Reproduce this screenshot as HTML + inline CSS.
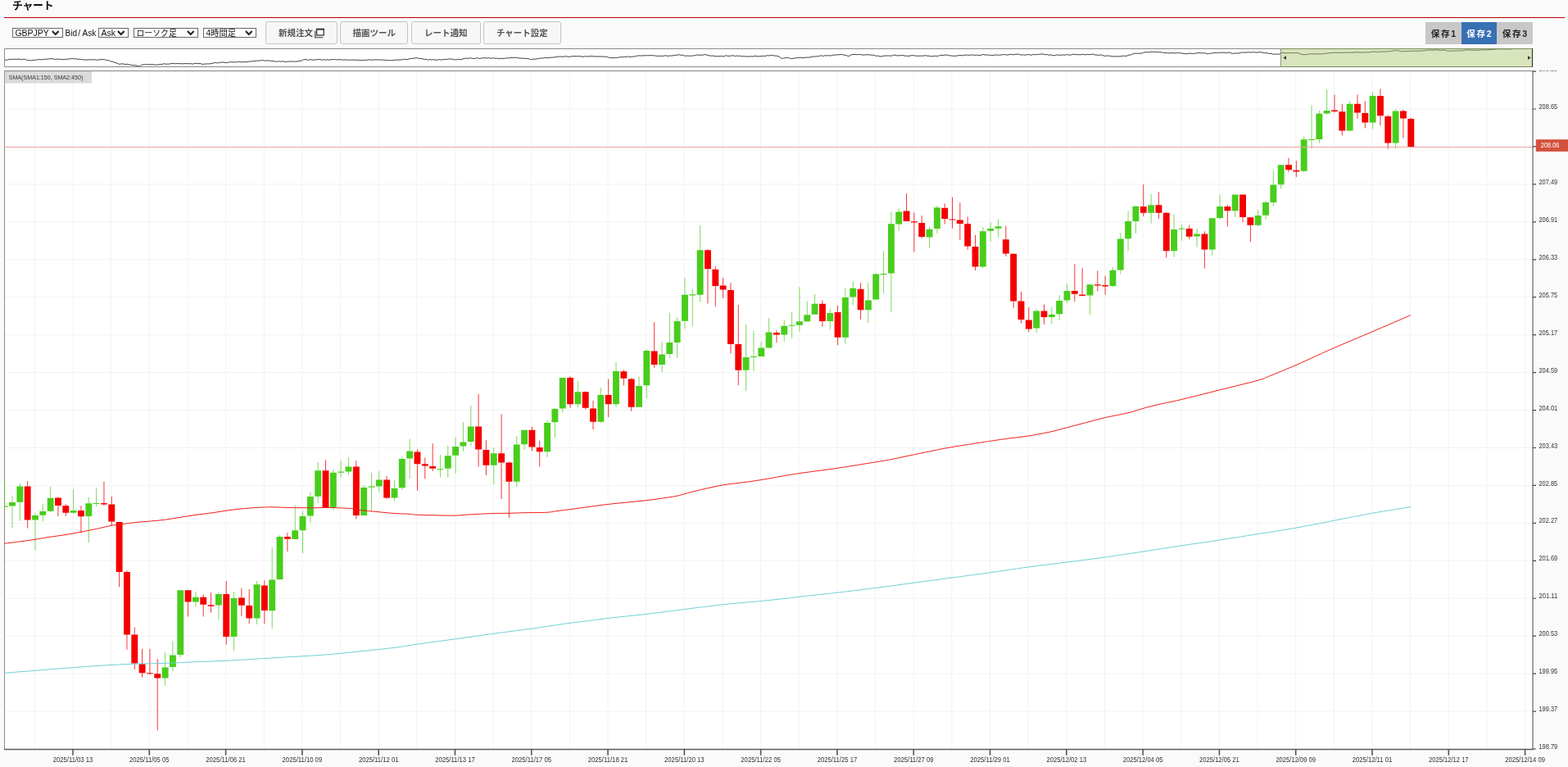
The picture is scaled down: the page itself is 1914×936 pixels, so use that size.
<!DOCTYPE html>
<html><head><meta charset="utf-8"><title>チャート</title><style>
*{box-sizing:border-box}
html,body{margin:0;padding:0;width:1914px;height:936px;overflow:hidden;background:#fafafa;font-family:"Liberation Sans","Noto Sans CJK JP",sans-serif}
.chart{position:absolute;left:0;top:0}
.title{position:absolute;left:15px;top:-2.2px;font-size:13px;line-height:18px;font-weight:bold;color:#111;font-family:"Liberation Sans","Noto Sans CJK JP",sans-serif;letter-spacing:-0.4px}
.rline{position:absolute;left:5px;top:20.5px;width:1905px;height:1.5px;background:#b80000}
.sel{position:absolute;top:34.2px;height:11.5px;border:1px solid #6a6a6a;background:#fff;font-size:10.5px;line-height:10px;color:#111;white-space:nowrap;overflow:hidden;font-family:"Liberation Sans","Noto Sans CJK JP",sans-serif}
.sel .t{position:absolute;left:2.4px;top:0px}
.sel .ar{position:absolute;right:3.3px;top:2.2px;width:9.5px;height:6.5px}
.lbl{position:absolute;top:35.5px;font-size:10px;color:#111;line-height:10px}
.btn{position:absolute;top:26px;height:27.6px;border:1px solid #c4c4c4;border-radius:3px;background:#f7f7f7;font-family:"Liberation Sans","Noto Sans CJK JP",sans-serif;font-size:10.5px;color:#555;text-align:center;line-height:26px;font-weight:700}
.sv{position:absolute;top:27.1px;height:26.7px;font-family:"Liberation Sans","Noto Sans CJK JP",sans-serif;font-size:10.5px;font-weight:bold;letter-spacing:1.7px;text-indent:1.7px;text-align:center;line-height:28.5px;color:#222;background:#c8c8c8}
.sv.on{background:#3870b4;color:#fff}
.gl{position:absolute;left:0;top:59px;width:1914px;height:1px}
text{font-family:"Liberation Sans",sans-serif}
.yl text{font-size:8.2px;fill:#333}
.xl text{font-size:8.4px;fill:#333;text-anchor:middle}
.pl{font-size:8.6px;fill:#fff}
.sma{font-size:7.2px;fill:#333}
</style></head><body><svg class="chart" width="1914" height="936" viewBox="0 0 1914 936"><rect x="5.5" y="59.5" width="1865.5" height="22" fill="#fff"/><path d="M5 73.64 L6.7 73.17 L8.4 73.3 L10.1 72.47 L11.8 72.57 L13.5 72.38 L15.2 72.1 L16.9 72.51 L18.6 72.08 L20.3 72.44 L22 72.11 L23.7 72.13 L25.4 72.43 L27.1 72.79 L28.8 72.16 L30.5 72.36 L32.2 73.09 L33.9 73.75 L35.6 73.78 L37.3 73.61 L39 74.01 L40.7 73.05 L42.4 73.66 L44.1 73.02 L45.8 72.77 L47.5 72.62 L49.2 72.66 L50.9 72.98 L52.6 72.28 L54.3 72.51 L56 72.43 L57.7 72.06 L59.4 72.09 L61.1 71.63 L62.8 71.67 L64.5 71.85 L66.2 72.32 L67.9 72.13 L69.6 72.07 L71.3 72.36 L73 72.28 L74.7 72.19 L76.4 72.67 L78.1 72.63 L79.8 72.26 L81.5 72.31 L83.2 71.97 L84.9 72 L86.6 71.58 L88.3 71.26 L90 72.08 L91.7 71.5 L93.4 71.96 L95.1 72.47 L96.8 72.12 L98.5 72.62 L100.2 72.39 L101.9 72.95 L103.6 73.04 L105.3 72.87 L107 73.14 L108.7 72.63 L110.4 72.98 L112.1 72.88 L113.8 72.87 L115.5 72.76 L117.2 73.11 L118.9 73.2 L120.6 72.75 L122.3 72.86 L124 72.25 L125.7 72.77 L127.4 72.65 L129.1 73.29 L130.8 73.68 L132.5 73.73 L134.2 74.36 L135.9 75.15 L137.6 75.11 L139.3 76.04 L141 76.4 L142.7 77.04 L144.4 77.66 L146.1 78.5 L147.8 77.85 L149.5 77.89 L151.2 78.11 L152.9 78.7 L154.6 78.14 L156.3 78.62 L158 78.86 L159.7 79.32 L161.4 79.54 L163.1 79.89 L164.8 79.66 L166.5 80.09 L168.2 80.35 L169.9 81.13 L171.6 80.41 L173.3 78.96 L175 78.87 L176.7 78.79 L178.4 78.67 L180.1 78.79 L181.8 78.92 L183.5 78.66 L185.2 78.46 L186.9 78.87 L188.6 78.85 L190.3 79.03 L192 79.21 L193.7 78.8 L195.4 78.47 L197.1 78.4 L198.8 78.28 L200.5 77.58 L202.2 78.27 L203.9 78.1 L205.6 78.11 L207.3 77.98 L209 77.54 L210.7 77.54 L212.4 77.34 L214.1 77.88 L215.8 77.44 L217.5 77.51 L219.2 77.71 L220.9 77.7 L222.6 77.86 L224.3 77.6 L226 77.55 L227.7 77.69 L229.4 77.64 L231.1 77.83 L232.8 77.46 L234.5 78.16 L236.2 77.85 L237.9 77.37 L239.6 77.39 L241.3 77.52 L243 77.62 L244.7 77.48 L246.4 78.21 L248.1 78.42 L249.8 78.03 L251.5 78.12 L253.2 77.84 L254.9 77.94 L256.6 77.74 L258.3 77.23 L260 77.3 L261.7 76.58 L263.4 76.33 L265.1 77.05 L266.8 76.55 L268.5 76.09 L270.2 76.33 L271.9 75.81 L273.6 76.2 L275.3 76.55 L277 76.38 L278.7 76.17 L280.4 75.72 L282.1 75.76 L283.8 75.52 L285.5 76 L287.2 75.73 L288.9 75.89 L290.6 75.43 L292.3 75.28 L294 75.76 L295.7 75.87 L297.4 75.7 L299.1 75.6 L300.8 75.56 L302.5 75.44 L304.2 74.93 L305.9 75.14 L307.6 74.94 L309.3 74.6 L311 74.41 L312.7 74.34 L314.4 74.04 L316.1 74.14 L317.8 74.08 L319.5 73.34 L321.2 73.81 L322.9 74.03 L324.6 74.17 L326.3 73.89 L328 74.03 L329.7 74.31 L331.4 74.36 L333.1 74.42 L334.8 74.84 L336.5 75.13 L338.2 75.13 L339.9 74.85 L341.6 75.05 L343.3 75.22 L345 74.63 L346.7 75.14 L348.4 75.37 L350.1 75.25 L351.8 75.23 L353.5 74.98 L355.2 74.71 L356.9 75.26 L358.6 74.85 L360.3 75.25 L362 75.26 L363.7 74.61 L365.4 74.38 L367.1 74.33 L368.8 73.59 L370.5 72.69 L372.2 72.62 L373.9 72.61 L375.6 73.25 L377.3 73.13 L379 72.5 L380.7 73.09 L382.4 73.23 L384.1 72.94 L385.8 72.67 L387.5 72.84 L389.2 72.47 L390.9 72.36 L392.6 73.22 L394.3 72.93 L396 72.82 L397.7 73.19 L399.4 72.74 L401.1 73.15 L402.8 73.12 L404.5 72.58 L406.2 72.64 L407.9 72.69 L409.6 72.66 L411.3 72.99 L413 72.71 L414.7 72.87 L416.4 72.63 L418.1 73.35 L419.8 72.87 L421.5 72.96 L423.2 73.08 L424.9 73.36 L426.6 72.93 L428.3 73.38 L430 73 L431.7 73.16 L433.4 73.29 L435.1 72.97 L436.8 73.49 L438.5 73.39 L440.2 73.34 L441.9 73.92 L443.6 73.22 L445.3 73.35 L447 73.44 L448.7 73.15 L450.4 72.84 L452.1 73.02 L453.8 73.05 L455.5 73.26 L457.2 72.65 L458.9 73.05 L460.6 72.77 L462.3 72.8 L464 73.25 L465.7 73.01 L467.4 73.06 L469.1 73.23 L470.8 73.5 L472.5 73.35 L474.2 73.77 L475.9 73.73 L477.6 73.6 L479.3 73.63 L481 73.28 L482.7 73.21 L484.4 73.03 L486.1 73.31 L487.8 72.96 L489.5 72.98 L491.2 72.93 L492.9 72.21 L494.6 72.38 L496.3 72.62 L498 72.43 L499.7 71.69 L501.4 71.49 L503.1 71.58 L504.8 71.04 L506.5 70.99 L508.2 70.63 L509.9 70.96 L511.6 71.34 L513.3 71.75 L515 71.39 L516.7 72.2 L518.4 72.46 L520.1 72.28 L521.8 72.98 L523.5 73.09 L525.2 72.45 L526.9 73.15 L528.6 72.68 L530.3 72.79 L532 73.28 L533.7 73.17 L535.4 72.6 L537.1 72.88 L538.8 72.99 L540.5 72.81 L542.2 72.51 L543.9 72.45 L545.6 72.64 L547.3 71.84 L549 72.15 L550.7 72.09 L552.4 72.05 L554.1 72.67 L555.8 73.02 L557.5 72.73 L559.2 72.13 L560.9 72.77 L562.6 72.4 L564.3 72.37 L566 71.4 L567.7 71.35 L569.4 70.95 L571.1 71.53 L572.8 71.05 L574.5 70.89 L576.2 71.13 L577.9 71.54 L579.6 71.43 L581.3 70.89 L583 70.77 L584.7 71.43 L586.4 71.09 L588.1 71.18 L589.8 70.6 L591.5 70.54 L593.2 71.08 L594.9 70.82 L596.6 70.47 L598.3 71.22 L600 70.92 L601.7 71.19 L603.4 70.66 L605.1 71.48 L606.8 70.89 L608.5 71.72 L610.2 71.45 L611.9 71.26 L613.6 71.37 L615.3 71.62 L617 70.94 L618.7 70.73 L620.4 71 L622.1 70.66 L623.8 70.46 L625.5 70.42 L627.2 70.24 L628.9 70.29 L630.6 70.39 L632.3 70.55 L634 71.13 L635.7 70.88 L637.4 71.24 L639.1 71.12 L640.8 71.45 L642.5 71.34 L644.2 71.74 L645.9 71.71 L647.6 72.55 L649.3 72.57 L651 72.16 L652.7 72.15 L654.4 72.29 L656.1 71.27 L657.8 71.64 L659.5 71.02 L661.2 70.91 L662.9 71.08 L664.6 70.56 L666.3 70.53 L668 70.57 L669.7 70.71 L671.4 70 L673.1 70.32 L674.8 70.08 L676.5 69.88 L678.2 69.55 L679.9 69.37 L681.6 69.04 L683.3 69.05 L685 68.94 L686.7 69.48 L688.4 68.99 L690.1 68.84 L691.8 68.71 L693.5 69.33 L695.2 69.3 L696.9 69.06 L698.6 68.65 L700.3 68.57 L702 68.61 L703.7 68.76 L705.4 68.49 L707.1 68.75 L708.8 68.59 L710.5 69.22 L712.2 69.23 L713.9 68.84 L715.6 68.57 L717.3 69.22 L719 68.63 L720.7 68.7 L722.4 68.43 L724.1 68.84 L725.8 68.98 L727.5 69.06 L729.2 68.85 L730.9 69.19 L732.6 68.8 L734.3 69.09 L736 68.99 L737.7 69.33 L739.4 69.07 L741.1 69.36 L742.8 70.05 L744.5 70.43 L746.2 70.77 L747.9 70.57 L749.6 70.63 L751.3 70.4 L753 70.3 L754.7 70.3 L756.4 69.71 L758.1 69.51 L759.8 69.95 L761.5 69.11 L763.2 69.55 L764.9 69.4 L766.6 68.78 L768.3 69.41 L770 69.39 L771.7 69.07 L773.4 69.09 L775.1 69.06 L776.8 68.12 L778.5 68.12 L780.2 67.8 L781.9 68.04 L783.6 67.97 L785.3 67.93 L787 67.67 L788.7 67.89 L790.4 67.7 L792.1 67.84 L793.8 67.56 L795.5 67.52 L797.2 67.75 L798.9 68.09 L800.6 67.94 L802.3 68.57 L804 68.29 L805.7 68.33 L807.4 68.3 L809.1 68.33 L810.8 68.13 L812.5 67.67 L814.2 68.35 L815.9 68.28 L817.6 68.04 L819.3 68.04 L821 68.04 L822.7 67.34 L824.4 67.77 L826.1 67.17 L827.8 66.84 L829.5 66.84 L831.2 67.36 L832.9 67.11 L834.6 67.81 L836.3 68.25 L838 68.03 L839.7 68.16 L841.4 68.17 L843.1 68.22 L844.8 68.16 L846.5 67.89 L848.2 67.77 L849.9 67.13 L851.6 67.1 L853.3 67.11 L855 67.47 L856.7 66.99 L858.4 67.14 L860.1 66.57 L861.8 66.82 L863.5 67.21 L865.2 67.78 L866.9 68 L868.6 68.19 L870.3 68.05 L872 68.45 L873.7 68.61 L875.4 68.75 L877.1 68.34 L878.8 68.95 L880.5 68.24 L882.2 68.85 L883.9 68.72 L885.6 67.8 L887.3 68.11 L889 68.34 L890.7 68.44 L892.4 68.03 L894.1 67.91 L895.8 67.91 L897.5 68.63 L899.2 68.02 L900.9 68.42 L902.6 68.11 L904.3 68.54 L906 69.01 L907.7 68.35 L909.4 69.06 L911.1 68.81 L912.8 69.15 L914.5 68.98 L916.2 68.56 L917.9 69.16 L919.6 68.79 L921.3 68.37 L923 68.35 L924.7 68.79 L926.4 68.76 L928.1 68.62 L929.8 68.48 L931.5 68.46 L933.2 68.22 L934.9 68.47 L936.6 67.49 L938.3 67.95 L940 67.81 L941.7 67.16 L943.4 67.88 L945.1 67.72 L946.8 68.33 L948.5 68.22 L950.2 68.78 L951.9 69.65 L953.6 71.05 L955.3 71.33 L957 70.85 L958.7 70.64 L960.4 70.38 L962.1 70.51 L963.8 70.9 L965.5 71.75 L967.2 71.09 L968.9 71.5 L970.6 70.71 L972.3 70.56 L974 70.61 L975.7 70.17 L977.4 70.23 L979.1 70.64 L980.8 70.46 L982.5 70.28 L984.2 70 L985.9 70.15 L987.6 70.06 L989.3 69.59 L991 69.58 L992.7 68.77 L994.4 69.18 L996.1 68.72 L997.8 68.79 L999.5 68.49 L1001.2 68.07 L1002.9 67.81 L1004.6 68.55 L1006.3 67.78 L1008 68.03 L1009.7 67.87 L1011.4 67.68 L1013.1 67.91 L1014.8 67.95 L1016.5 67.13 L1018.2 67.32 L1019.9 66.83 L1021.6 67.02 L1023.3 66.84 L1025 66.6 L1026.7 66.56 L1028.4 66.57 L1030.1 67.2 L1031.8 67.34 L1033.5 67.6 L1035.2 68.61 L1036.9 68.18 L1038.6 67.17 L1040.3 66.48 L1042 66.52 L1043.7 66.43 L1045.4 66.66 L1047.1 66.43 L1048.8 66.57 L1050.5 66.58 L1052.2 66.86 L1053.9 67.15 L1055.6 67.02 L1057.3 66.72 L1059 66.72 L1060.7 66.92 L1062.4 67.01 L1064.1 67.2 L1065.8 67.18 L1067.5 67.6 L1069.2 68.45 L1070.9 67.92 L1072.6 68.48 L1074.3 68.82 L1076 69.04 L1077.7 68.31 L1079.4 68.21 L1081.1 68.04 L1082.8 68.03 L1084.5 67.93 L1086.2 68.24 L1087.9 68 L1089.6 67.87 L1091.3 67.1 L1093 67.15 L1094.7 67.81 L1096.4 68.02 L1098.1 67.68 L1099.8 67.82 L1101.5 67.34 L1103.2 67.73 L1104.9 68.26 L1106.6 68.21 L1108.3 68.28 L1110 68.43 L1111.7 67.77 L1113.4 67.65 L1115.1 67.69 L1116.8 68.02 L1118.5 68.16 L1120.2 68.4 L1121.9 68.2 L1123.6 68.13 L1125.3 68.24 L1127 67.96 L1128.7 68.05 L1130.4 67.62 L1132.1 68.42 L1133.8 68.06 L1135.5 68.82 L1137.2 68.71 L1138.9 68.54 L1140.6 68.39 L1142.3 68.3 L1144 68.44 L1145.7 68.29 L1147.4 67.56 L1149.1 67.32 L1150.8 67.53 L1152.5 67.37 L1154.2 67 L1155.9 66.99 L1157.6 67.77 L1159.3 67.68 L1161 68.07 L1162.7 68.12 L1164.4 68.48 L1166.1 68.1 L1167.8 68.23 L1169.5 67.77 L1171.2 67.46 L1172.9 67.38 L1174.6 67.94 L1176.3 67.64 L1178 67.23 L1179.7 66.91 L1181.4 67.29 L1183.1 67.39 L1184.8 67.1 L1186.5 66.9 L1188.2 67.21 L1189.9 67.39 L1191.6 67.07 L1193.3 67.24 L1195 67.85 L1196.7 67.42 L1198.4 67.14 L1200.1 66.24 L1201.8 66.95 L1203.5 67.07 L1205.2 67.02 L1206.9 66.92 L1208.6 67.78 L1210.3 67.32 L1212 67.69 L1213.7 67.07 L1215.4 66.98 L1217.1 67.38 L1218.8 66.88 L1220.5 67.39 L1222.2 66.94 L1223.9 66.62 L1225.6 66.61 L1227.3 66.74 L1229 66.92 L1230.7 67.14 L1232.4 66.37 L1234.1 66.55 L1235.8 66.35 L1237.5 66.99 L1239.2 66.2 L1240.9 66.11 L1242.6 66.14 L1244.3 66.47 L1246 66.95 L1247.7 66.96 L1249.4 66.85 L1251.1 67.11 L1252.8 67.08 L1254.5 66.56 L1256.2 66.46 L1257.9 67.16 L1259.6 67.02 L1261.3 66.34 L1263 66.85 L1264.7 66.53 L1266.4 66.47 L1268.1 66.38 L1269.8 66.18 L1271.5 65.97 L1273.2 66.16 L1274.9 66.17 L1276.6 66.9 L1278.3 66.36 L1280 67.32 L1281.7 66.84 L1283.4 67.18 L1285.1 67.79 L1286.8 67.73 L1288.5 67.32 L1290.2 66.92 L1291.9 67.25 L1293.6 67.1 L1295.3 67.53 L1297 66.82 L1298.7 66.92 L1300.4 67.35 L1302.1 66.52 L1303.8 66.82 L1305.5 67.14 L1307.2 67.06 L1308.9 66.36 L1310.6 66.32 L1312.3 66.3 L1314 67.03 L1315.7 66.39 L1317.4 66.79 L1319.1 66.88 L1320.8 66.36 L1322.5 66.3 L1324.2 66.91 L1325.9 66.61 L1327.6 66.29 L1329.3 66.69 L1331 66.33 L1332.7 66.3 L1334.4 66.05 L1336.1 66.84 L1337.8 67.15 L1339.5 67.07 L1341.2 67.52 L1342.9 66.86 L1344.6 67.22 L1346.3 67.61 L1348 68.21 L1349.7 68.38 L1351.4 68.01 L1353.1 68.02 L1354.8 68.32 L1356.5 68.51 L1358.2 69.04 L1359.9 68.51 L1361.6 69.02 L1363.3 68.9 L1365 68.92 L1366.7 68.82 L1368.4 68.62 L1370.1 68.31 L1371.8 68.24 L1373.5 68.23 L1375.2 68.5 L1376.9 67.39 L1378.6 67.02 L1380.3 67.04 L1382 66.11 L1383.7 65.47 L1385.4 65.04 L1387.1 65.34 L1388.8 64.96 L1390.5 65.38 L1392.2 65.13 L1393.9 65.05 L1395.6 64.22 L1397.3 63.85 L1399 63.66 L1400.7 63.81 L1402.4 63.8 L1404.1 63.36 L1405.8 63.06 L1407.5 63.23 L1409.2 63.41 L1410.9 63.46 L1412.6 63.52 L1414.3 63.61 L1416 63.65 L1417.7 63.5 L1419.4 64.49 L1421.1 64.19 L1422.8 64.56 L1424.5 64.5 L1426.2 64.95 L1427.9 64.58 L1429.6 64.74 L1431.3 64.68 L1433 64.48 L1434.7 65.02 L1436.4 64.62 L1438.1 64.28 L1439.8 64.22 L1441.5 65.1 L1443.2 65.07 L1444.9 65.23 L1446.6 65.72 L1448.3 65.53 L1450 65.78 L1451.7 64.92 L1453.4 65.2 L1455.1 65.45 L1456.8 65.41 L1458.5 65.42 L1460.2 64.58 L1461.9 64.72 L1463.6 64.48 L1465.3 64.46 L1467 65.08 L1468.7 64.64 L1470.4 64.99 L1472.1 64.93 L1473.8 65.82 L1475.5 65.62 L1477.2 65.01 L1478.9 65.04 L1480.6 64.9 L1482.3 64.12 L1484 64.55 L1485.7 64.55 L1487.4 64.17 L1489.1 64.29 L1490.8 64.07 L1492.5 64.11 L1494.2 64.14 L1495.9 64.43 L1497.6 64.46 L1499.3 64.04 L1501 64.1 L1502.7 64.79 L1504.4 65.52 L1506.1 65.11 L1507.8 65.05 L1509.5 64.78 L1511.2 65.15 L1512.9 64.75 L1514.6 64.15 L1516.3 64.01 L1518 64.11 L1519.7 64.08 L1521.4 64.11 L1523.1 63.6 L1524.8 63.65 L1526.5 64.11 L1528.2 63.84 L1529.9 63.71 L1531.6 63.71 L1533.3 64.27 L1535 63.68 L1536.7 63.89 L1538.4 63.69 L1540.1 63.74 L1541.8 64.43 L1543.5 64.84 L1545.2 64.56 L1546.9 64.7 L1548.6 65.47 L1550.3 65.26 L1552 65.26 L1553.7 66.23 L1555.4 65.93 L1557.1 66.29 L1558.8 65.92 L1560.5 66.34 L1562.2 65.96 L1563.43 64.57 L1564.96 64.53 L1566.5 64.33 L1568.04 64.74 L1569.57 64.69 L1571.11 64.64 L1572.65 64.47 L1574.18 64.57 L1575.72 64.65 L1577.25 64.63 L1578.79 64.7 L1580.33 64.54 L1581.86 64.54 L1583.4 64.55 L1584.94 64.76 L1586.47 65.39 L1588.01 66.16 L1589.55 66.52 L1591.08 66.64 L1592.62 66.65 L1594.15 66.7 L1595.69 66.57 L1597.23 66.42 L1598.76 65.61 L1600.3 65.76 L1601.84 65.7 L1603.37 65.79 L1604.91 65.81 L1606.44 65.66 L1607.98 66.19 L1609.52 65.71 L1611.05 65.8 L1612.59 65.96 L1614.13 65.54 L1615.66 65.86 L1617.2 65.49 L1618.74 64.95 L1620.27 64.98 L1621.81 64.87 L1623.34 64.7 L1624.88 64.45 L1626.42 64.13 L1627.95 64.59 L1629.49 64.16 L1631.03 64.15 L1632.56 64.09 L1634.1 64.69 L1635.63 64.34 L1637.17 64.33 L1638.71 64.25 L1640.24 64.47 L1641.78 64.35 L1643.32 63.99 L1644.85 63.89 L1646.39 64.05 L1647.93 64.08 L1649.46 64.11 L1651 64.11 L1652.53 63.95 L1654.07 63.84 L1655.61 63.78 L1657.14 63.59 L1658.68 63.87 L1660.22 64.07 L1661.75 63.92 L1663.29 64.03 L1664.82 64.27 L1666.36 63.81 L1667.9 63.63 L1669.43 63.84 L1670.97 63.9 L1672.51 63.54 L1674.04 63.37 L1675.58 62.98 L1677.12 63.31 L1678.65 63.16 L1680.19 63.36 L1681.72 63.53 L1683.26 63.2 L1684.8 63.31 L1686.33 62.9 L1687.87 62.99 L1689.41 63.35 L1690.94 63.08 L1692.48 62.65 L1694.01 62.82 L1695.55 62.7 L1697.09 62.55 L1698.62 62.28 L1700.16 61.96 L1701.7 61.95 L1703.23 61.4 L1704.77 61.64 L1706.31 61.85 L1707.84 61.89 L1709.38 62.57 L1710.91 62.89 L1712.45 62.73 L1713.99 62.72 L1715.52 62.62 L1717.06 62.42 L1718.6 62.45 L1720.13 62.34 L1721.67 62.33 L1723.2 62.29 L1724.74 62.21 L1726.28 62.07 L1727.81 62.28 L1729.35 62.18 L1730.89 62.49 L1732.42 61.99 L1733.96 61.88 L1735.5 62.14 L1737.03 62.03 L1738.57 61.7 L1740.1 61.7 L1741.64 61.08 L1743.18 60.93 L1744.71 61.05 L1746.25 61.06 L1747.79 61.24 L1749.32 61.15 L1750.86 60.88 L1752.39 61.02 L1753.93 61.03 L1755.47 61.08 L1757 61.36 L1758.54 61.61 L1760.08 61.17 L1761.61 61.14 L1763.15 61.11 L1764.69 61.45 L1766.22 62.04 L1767.76 62.26 L1769.29 62.38 L1770.83 62.16 L1772.37 62.23 L1773.9 62.2 L1775.44 62.03 L1776.98 61.91 L1778.51 61.95 L1780.05 61.97 L1781.58 61.83 L1783.12 61.84 L1784.66 61.85 L1786.19 61.65 L1787.73 61.27 L1789.27 61.05 L1790.8 60.86 L1792.34 60.94 L1793.88 60.85 L1795.41 60.94 L1796.95 61.42 L1798.48 61.15 L1800.02 61.14 L1801.56 61.24 L1803.09 61.2 L1804.63 61.4 L1806.17 61.01 L1807.7 60.87 L1809.24 60.92 L1810.77 60.72 L1812.31 61 L1813.85 61.1 L1815.38 60.98 L1816.92 60.81 L1818.46 60.6 L1819.99 60.35 L1821.53 60.41 L1823.06 60.44 L1824.6 60.04 L1826.14 60.03 L1827.67 59.8 L1829.21 59.8 L1830.75 59.8 L1832.28 59.93 L1833.82 59.8 L1835.36 59.8 L1836.89 59.83 L1838.43 59.8 L1839.96 59.8 L1841.5 60.08 L1843.04 59.8 L1844.57 59.8 L1846.11 60.13" stroke="#3a3a3a" stroke-width="1" fill="none"/><rect x="1563.4" y="59.5" width="307.2" height="22" fill="#a8c36a" fill-opacity="0.45"/><path d="M5.5 59.5H1563.4M5.5 81.5H1563.4M5.5 59.5V81.5M1563.4 59.5V81.5" stroke="#8a8a8a" stroke-width="1" fill="none"/><path d="M1563.4 59.5H1870.5M1563.4 81.5H1870.5" stroke="#7f8d63" stroke-width="1" fill="none"/><path d="M1870.5 59V82" stroke="#333d22" stroke-width="1.2" fill="none"/><path d="M1570 68.2L1566.3 70.5L1570 72.8Z" fill="#333"/><path d="M1865 68.2L1868.7 70.5L1865 72.8Z" fill="#333"/><rect x="5.5" y="86.5" width="1865.5" height="827.5" fill="#fff"/><path d="M42.35 87V914M89 87V914M135.65 87V914M182.29 87V914M228.94 87V914M275.59 87V914M322.24 87V914M368.88 87V914M415.53 87V914M462.18 87V914M508.82 87V914M555.47 87V914M602.12 87V914M648.76 87V914M695.41 87V914M742.06 87V914M788.7 87V914M835.35 87V914M882 87V914M928.65 87V914M975.29 87V914M1021.94 87V914M1068.59 87V914M1115.23 87V914M1161.88 87V914M1208.53 87V914M1255.17 87V914M1301.82 87V914M1348.47 87V914M1395.12 87V914M1441.76 87V914M1488.41 87V914M1535.06 87V914M1581.7 87V914M1628.35 87V914M1675 87V914M1721.64 87V914M1768.29 87V914M1814.94 87V914M1861.59 87V914M6 868.06H1871M6 822.12H1871M6 776.18H1871M6 730.24H1871M6 684.3H1871M6 638.36H1871M6 592.42H1871M6 546.48H1871M6 500.54H1871M6 454.6H1871M6 408.66H1871M6 362.72H1871M6 316.78H1871M6 270.84H1871M6 224.9H1871M6 178.96H1871M6 133.02H1871M6 87.08H1871" stroke="#f2f2f2" stroke-width="1" fill="none"/><path d="M5.5 86.5V914" stroke="#8a8a8a" stroke-width="1" fill="none"/><defs><clipPath id="pc"><rect x="5" y="87" width="1866" height="827"/></clipPath></defs><g clip-path="url(#pc)"><path d="M5.67 588V622.7M15 605.3V644.6M24.33 590.1V635.3M42.99 626V671.6M52.32 615.2V636.6M61.65 593.9V624.9M89.64 597.1V627M108.29 606.7V662.2M117.62 596V618.5M201.59 796.3V836.8M210.92 782.3V819.4M220.25 720.2V802.3M238.91 721.9V740.8M266.89 722.7V756.4M285.55 722V794.3M313.54 709V762M332.2 668V767M341.53 653.2V707.6M360.19 616.3V658M369.52 623.6V675M378.85 600.5V637.5M388.18 564V614M406.83 573.2V622.6M416.16 562.3V582.7M425.49 558.2V579.4M444.15 591.8V629M453.48 576.9V623.6M462.81 575V600M481.47 586.2V611.3M490.8 557.2V597.7M500.13 535.4V584.4M537.45 554.8V582.6M546.78 544.1V582.6M556.11 533.9V578M565.43 515V550.8M574.76 495V544.5M602.75 546.3V590.8M630.74 532V594.5M640.07 524.7V548.9M668.06 512.6V557.9M677.39 497.8V534.3M686.72 460.3V503.6M705.38 464.8V497.3M733.36 473V516.4M752.02 441.7V496.9M780.01 459.3V496.7M789.34 425.7V485.8M808 416.9V454.5M817.33 381.6V436.9M826.66 387.2V436.9M835.99 339.1V401.3M845.32 352.6V398.3M854.65 274.9V368.3M910.62 396.1V476.9M919.95 403.5V452.9M929.28 417.2V434.9M938.61 388.1V424.5M957.27 390.3V416.9M966.6 381V412.7M975.93 350.3V404.6M985.26 367.4V392.8M994.59 358.8V383.8M1013.25 376.8V402.4M1031.9 351.8V419.7M1041.23 343.1V372.1M1059.89 345.1V394M1069.22 333.5V365.6M1078.55 306.1V358.3M1087.88 258.4V381.2M1097.21 253.8V281.8M1134.53 276.7V303.1M1143.86 251.3V284.8M1199.83 276.7V327M1209.16 271.6V294.6M1218.49 267.6V289.9M1265.14 377.2V405.9M1283.8 375V395.1M1293.13 360V391M1302.46 346.2V369.9M1330.45 346.2V384M1358.43 326.3V350M1367.76 284.5V334.5M1377.09 257.4V306.5M1386.42 251.4V285.1M1405.08 236.9V272.8M1433.07 261.3V313.6M1442.4 274.1V293.7M1461.06 279V301.7M1479.72 265.6V311.6M1489.05 237.6V267.5M1507.7 237.6V265M1535.69 256V276.5M1545.02 245V267.5M1554.35 207.7V251.8M1563.68 201V230.6M1591.67 166.4V210.3M1601 128.5V181.4M1610.33 134.9V174.6M1619.66 109.2V139.7M1647.64 123.1V159.6M1675.63 111.8V157.4M1703.62 133.1V181.4" stroke="#48cd1c" stroke-width="1" fill="none" opacity="0.72"/><path d="M33.66 587V644.6M70.98 606.7V630.2M80.31 615.2V629.7M98.96 617.2V650.5M126.95 587.7V616.9M136.28 605.8V641.3M145.61 636.9V716.3M154.94 696.2V792.7M164.27 765.4V817.2M173.6 791.8V826.8M182.93 791.8V823.5M192.26 804.1V891.3M229.58 720.2V752.4M248.23 725.3V752.4M257.56 723.1V747.6M276.22 709V786.6M294.88 717.6V751.7M304.21 719.1V761.1M322.87 708.2V761.1M350.86 650.3V673.1M397.51 561.3V619.4M434.82 562.3V633.5M472.14 580.9V609M509.46 548.5V598.6M518.79 558.4V584.4M528.12 541.2V575M584.09 480.9V569.5M593.42 537.2V579.9M612.08 505.3V609M621.41 563.5V632M649.4 520.9V550.5M658.73 537.7V569.6M696.05 459.2V497.8M714.7 477.6V499.6M724.03 488.8V524.2M742.69 462.5V509M761.35 451.3V470.5M770.68 461.4V501.8M798.67 393.1V448.9M863.98 304.1V370.5M873.3 325V374.3M882.63 339.1V363.8M891.96 345.2V431.5M901.29 372V470.1M947.94 403.3V418.2M1003.92 366.5V398.6M1022.58 373V421.3M1050.56 345.3V389.8M1106.54 236.1V270M1115.87 259.4V307.5M1125.2 263.1V290.9M1153.19 248.3V273.6M1162.52 240.6V278.7M1171.85 247.3V292.9M1181.17 264.5V304.7M1190.5 286.8V330.1M1227.82 275.7V312.8M1237.15 309.2V375.8M1246.48 355.9V394.4M1255.81 374.8V405.2M1274.47 371.5V395.9M1311.79 322.4V368.2M1321.12 327.2V361.3M1339.77 330.4V355.4M1349.1 336.5V359.6M1395.75 225.1V264.2M1414.41 234.4V266.8M1423.74 259.1V314.5M1451.73 275.1V292.1M1470.39 282.2V327.7M1498.37 250V276.5M1517.03 237.3V271.2M1526.36 265.3V295.2M1573.01 192.7V209.6M1582.34 196.2V216M1628.99 115.6V137.8M1638.32 126.7V165.4M1656.97 115.6V144.6M1666.3 123.5V156.4M1684.96 108.3V153.2M1694.29 140.4V181.8M1712.95 134V168.6M1722.28 143.6V179.5" stroke="#f40000" stroke-width="1" fill="none" opacity="0.8"/><path d="M1.72 617.4h7.9v1.3h-7.9zM11.05 613.1h7.9v4.5h-7.9zM20.38 593.4h7.9v19.4h-7.9zM39.04 629.1h7.9v5.4h-7.9zM48.37 624h7.9v4.8h-7.9zM57.7 607.8h7.9v16h-7.9zM85.69 622.9h7.9v2.8h-7.9zM104.34 614.2h7.9v15.8h-7.9zM113.67 614h7.9v1h-7.9zM197.64 814.5h7.9v13h-7.9zM206.97 799.4h7.9v14.7h-7.9zM216.3 720.2h7.9v78.8h-7.9zM234.96 728.8h7.9v5.8h-7.9zM262.94 725h7.9v13.5h-7.9zM281.6 730h7.9v47h-7.9zM309.59 713.3h7.9v41.3h-7.9zM328.25 707.6h7.9v37.6h-7.9zM337.58 655h7.9v52.1h-7.9zM356.24 647.2h7.9v10.8h-7.9zM365.57 629.9h7.9v17.3h-7.9zM374.9 605.9h7.9v23.6h-7.9zM384.23 574.2h7.9v31.6h-7.9zM402.88 576.7h7.9v42.7h-7.9zM412.21 575.6h7.9v1.1h-7.9zM421.54 569.6h7.9v5.8h-7.9zM440.2 595h7.9v34h-7.9zM449.53 593.6h7.9v1.1h-7.9zM458.86 585.4h7.9v8.2h-7.9zM477.52 595.9h7.9v11.6h-7.9zM486.85 559.9h7.9v35.4h-7.9zM496.18 550.5h7.9v9h-7.9zM533.5 572.3h7.9v1h-7.9zM542.83 556.3h7.9v15.4h-7.9zM552.16 545h7.9v10.7h-7.9zM561.48 539.6h7.9v4.9h-7.9zM570.81 520.5h7.9v18.5h-7.9zM598.8 553.2h7.9v14.5h-7.9zM626.79 542.6h7.9v45.1h-7.9zM636.12 524.7h7.9v17.5h-7.9zM664.11 515.9h7.9v35.3h-7.9zM673.44 499.1h7.9v16.2h-7.9zM682.77 461h7.9v37.4h-7.9zM701.43 478.2h7.9v15.1h-7.9zM729.41 482h7.9v32.8h-7.9zM748.07 453.1h7.9v40.2h-7.9zM776.06 470.9h7.9v25.8h-7.9zM785.39 428.1h7.9v42.1h-7.9zM804.05 432.6h7.9v12.3h-7.9zM813.38 418.1h7.9v14h-7.9zM822.71 392h7.9v26h-7.9zM832.04 359.7h7.9v32.1h-7.9zM841.37 359.3h7.9v1.1h-7.9zM850.7 305.2h7.9v54.5h-7.9zM906.67 436h7.9v15.7h-7.9zM916 434.9h7.9v1.1h-7.9zM925.33 424.6h7.9v10.3h-7.9zM934.66 405.6h7.9v18.9h-7.9zM953.32 397.7h7.9v10.8h-7.9zM962.65 396.7h7.9v1h-7.9zM971.98 392.2h7.9v4.5h-7.9zM981.31 384.2h7.9v8h-7.9zM990.64 370.8h7.9v13h-7.9zM1009.3 381.9h7.9v10h-7.9zM1027.95 363.1h7.9v48.7h-7.9zM1037.28 351.8h7.9v10.6h-7.9zM1055.94 366.4h7.9v11.8h-7.9zM1065.27 334.5h7.9v31.1h-7.9zM1074.6 333.9h7.9v1h-7.9zM1083.93 273.2h7.9v60.3h-7.9zM1093.26 258.4h7.9v15.2h-7.9zM1130.58 279.7h7.9v9.8h-7.9zM1139.91 253.3h7.9v25.8h-7.9zM1195.88 282.2h7.9v43.2h-7.9zM1205.21 279.1h7.9v2.7h-7.9zM1214.54 276.3h7.9v2.4h-7.9zM1261.19 379.5h7.9v21.1h-7.9zM1279.85 383.7h7.9v3.2h-7.9zM1289.18 366.9h7.9v16.4h-7.9zM1298.51 355.1h7.9v11.3h-7.9zM1326.5 347.2h7.9v13.4h-7.9zM1354.48 329.7h7.9v19.3h-7.9zM1363.81 291.5h7.9v38.1h-7.9zM1373.14 270h7.9v21.2h-7.9zM1382.47 251.8h7.9v18.2h-7.9zM1401.13 250.3h7.9v9.4h-7.9zM1429.12 279.9h7.9v26.4h-7.9zM1438.45 278.7h7.9v1h-7.9zM1457.11 285.4h7.9v3.2h-7.9zM1475.77 266.3h7.9v38.3h-7.9zM1485.1 252.1h7.9v13.9h-7.9zM1503.75 237.6h7.9v19.7h-7.9zM1531.74 263h7.9v11.7h-7.9zM1541.07 247h7.9v15.7h-7.9zM1550.4 225.6h7.9v21.3h-7.9zM1559.73 201.2h7.9v24.1h-7.9zM1587.72 170.3h7.9v38.4h-7.9zM1597.05 169.9h7.9v1h-7.9zM1606.38 138.8h7.9v31.1h-7.9zM1615.71 134.9h7.9v3.6h-7.9zM1643.69 126.7h7.9v32.9h-7.9zM1671.68 117.1h7.9v32.5h-7.9zM1699.67 135.5h7.9v39.1h-7.9z" fill="#48cd1c"/><path d="M29.71 593.4h7.9v41.1h-7.9zM67.03 607.6h7.9v9.3h-7.9zM76.36 617.2h7.9v8.5h-7.9zM95.01 622.9h7.9v7.3h-7.9zM123 614h7.9v1.5h-7.9zM132.33 615.4h7.9v21.1h-7.9zM141.66 636.9h7.9v61.1h-7.9zM150.99 698h7.9v76.4h-7.9zM160.32 774.5h7.9v34.9h-7.9zM169.65 810.3h7.9v10.9h-7.9zM178.98 821.2h7.9v1.1h-7.9zM188.31 822.3h7.9v5.2h-7.9zM225.63 720.2h7.9v14.3h-7.9zM244.28 728.8h7.9v8.9h-7.9zM253.61 738.2h7.9v1.5h-7.9zM272.27 725h7.9v52h-7.9zM290.93 729.5h7.9v9.3h-7.9zM300.26 739.1h7.9v15.5h-7.9zM318.92 714.4h7.9v30.6h-7.9zM346.91 655h7.9v2.7h-7.9zM393.56 574.2h7.9v45.2h-7.9zM430.87 569.6h7.9v59.4h-7.9zM468.19 585.4h7.9v22.1h-7.9zM505.51 551.4h7.9v14.9h-7.9zM514.84 566.3h7.9v2.3h-7.9zM524.17 569h7.9v2.7h-7.9zM580.14 520.5h7.9v28.1h-7.9zM589.47 549h7.9v18.7h-7.9zM608.13 553.2h7.9v11.3h-7.9zM617.46 564.6h7.9v23.1h-7.9zM645.45 524.7h7.9v20.8h-7.9zM654.78 546h7.9v5.2h-7.9zM692.1 461h7.9v32.3h-7.9zM710.75 478.2h7.9v19.6h-7.9zM720.08 498.4h7.9v16.4h-7.9zM738.74 482h7.9v11.3h-7.9zM757.4 453.2h7.9v8.5h-7.9zM766.73 462.5h7.9v34.2h-7.9zM794.72 428.6h7.9v16.3h-7.9zM860.03 305.2h7.9v23.1h-7.9zM869.35 328.8h7.9v20.2h-7.9zM878.68 348.5h7.9v5h-7.9zM888.01 354.1h7.9v65.8h-7.9zM897.34 419.9h7.9v31.8h-7.9zM943.99 405.9h7.9v2.6h-7.9zM999.97 370.8h7.9v21.1h-7.9zM1018.63 381h7.9v30.8h-7.9zM1046.61 352.8h7.9v25.4h-7.9zM1102.59 257.4h7.9v12.6h-7.9zM1111.92 270.2h7.9v1.4h-7.9zM1121.25 272h7.9v16.9h-7.9zM1149.24 253.8h7.9v13.3h-7.9zM1158.57 267.6h7.9v1h-7.9zM1167.9 268.6h7.9v4.4h-7.9zM1177.22 273.2h7.9v27.4h-7.9zM1186.55 301h7.9v24.4h-7.9zM1223.87 292.3h7.9v17.3h-7.9zM1233.2 309.8h7.9v57.6h-7.9zM1242.53 367.6h7.9v22.4h-7.9zM1251.86 390.4h7.9v11.2h-7.9zM1270.52 379.5h7.9v7.4h-7.9zM1307.84 354.9h7.9v3.8h-7.9zM1317.17 359.6h7.9v1.3h-7.9zM1335.82 347.2h7.9v1.3h-7.9zM1345.15 348.1h7.9v1.3h-7.9zM1391.8 252h7.9v7.7h-7.9zM1410.46 250.3h7.9v9.4h-7.9zM1419.79 259.7h7.9v46.6h-7.9zM1447.78 279h7.9v9.8h-7.9zM1466.44 285.4h7.9v19.2h-7.9zM1494.42 252.1h7.9v5.2h-7.9zM1513.08 237.6h7.9v27.4h-7.9zM1522.41 265.3h7.9v9.4h-7.9zM1569.06 201.2h7.9v6h-7.9zM1578.39 207.7h7.9v1.9h-7.9zM1625.04 134.6h7.9v1.3h-7.9zM1634.37 136.2h7.9v23.4h-7.9zM1653.02 126.7h7.9v10.9h-7.9zM1662.35 138.1h7.9v11.5h-7.9zM1681.01 117.1h7.9v24.2h-7.9zM1690.34 141.9h7.9v32.7h-7.9zM1709 135.5h7.9v9.1h-7.9zM1718.33 145.1h7.9v34.4h-7.9z" fill="#f40000"/><path d="M5 821.3C12.5 820.72 34.17 819.05 50 817.8C65.83 816.55 83.33 814.98 100 813.8C116.67 812.62 133.33 811.43 150 810.7C166.67 809.97 185 809.9 200 809.4C215 808.9 226.67 808.25 240 807.7C253.33 807.15 266.67 806.78 280 806.1C293.33 805.42 306.67 804.4 320 803.6C333.33 802.8 346.67 802.1 360 801.3C373.33 800.5 386.67 799.88 400 798.8C413.33 797.72 426.67 796.18 440 794.8C453.33 793.42 468.67 791.9 480 790.5C491.33 789.1 495.5 788.17 508 786.4C520.5 784.63 539.67 782.03 555 779.9C570.33 777.77 584.17 775.75 600 773.6C615.83 771.45 634.17 769.2 650 767C665.83 764.8 683.33 761.98 695 760.4C706.67 758.82 712.17 758.48 720 757.5C727.83 756.52 730.67 755.83 742 754.5C753.33 753.17 772.5 751.32 788 749.5C803.5 747.68 819.33 745.55 835 743.6C850.67 741.65 866.5 739.47 882 737.8C897.5 736.13 915 734.87 928 733.6C941 732.33 952.17 731.08 960 730.2C967.83 729.32 964.83 729.45 975 728.3C985.17 727.15 1005.5 725.08 1021 723.3C1036.5 721.52 1052.33 719.6 1068 717.6C1083.67 715.6 1099.5 713.38 1115 711.3C1130.5 709.22 1146.83 706.98 1161 705.1C1175.17 703.22 1184.33 702.18 1200 700C1215.67 697.82 1238 694.32 1255 692C1272 689.68 1286.5 688.08 1302 686.1C1317.5 684.12 1332.5 682.25 1348 680.1C1363.5 677.95 1379.67 675.52 1395 673.2C1410.33 670.88 1424.5 668.53 1440 666.2C1455.5 663.87 1472.17 661.62 1488 659.2C1503.83 656.78 1519.33 654.2 1535 651.7C1550.67 649.2 1566.5 646.93 1582 644.2C1597.5 641.47 1612.5 638.28 1628 635.3C1643.5 632.32 1659.33 629.1 1675 626.3C1690.67 623.5 1714.17 619.8 1722 618.5" stroke="#6fd0d6" stroke-width="1" fill="none"/><path d="M5 663.3C8.33 662.88 18.67 661.63 25 660.8C31.33 659.97 37.17 659.2 43 658.3C48.83 657.4 53.83 656.35 60 655.4C66.17 654.45 73.5 653.65 80 652.6C86.5 651.55 94 650.03 99 649.1C104 648.17 105.67 647.88 110 647C114.33 646.12 120.5 644.78 125 643.8C129.5 642.82 132.83 641.82 137 641.1C141.17 640.38 145.33 640.08 150 639.5C154.67 638.92 160 638.13 165 637.6C170 637.07 174.17 636.83 180 636.3C185.83 635.77 193.33 635.23 200 634.4C206.67 633.57 213.33 632.33 220 631.3C226.67 630.27 233.33 629.13 240 628.2C246.67 627.27 253.33 626.63 260 625.7C266.67 624.77 273.33 623.48 280 622.6C286.67 621.72 293.33 620.98 300 620.4C306.67 619.82 314.67 619.37 320 619.1C325.33 618.83 327 618.75 332 618.8C337 618.85 342 619.23 350 619.4C358 619.57 371.67 619.8 380 619.8C388.33 619.8 393.33 619.35 400 619.4C406.67 619.45 415 619.88 420 620.1C425 620.32 426.67 620.28 430 620.7C433.33 621.12 435 621.97 440 622.6C445 623.23 453.33 623.87 460 624.5C466.67 625.13 473.33 625.93 480 626.4C486.67 626.87 495.33 627 500 627.3C504.67 627.6 503 627.95 508 628.2C513 628.45 522.17 628.65 530 628.8C537.83 628.95 547.5 629.27 555 629.1C562.5 628.93 567.5 628.22 575 627.8C582.5 627.38 592.5 626.85 600 626.6C607.5 626.35 613.33 626.45 620 626.3C626.67 626.15 632.17 625.87 640 625.7C647.83 625.53 660.33 625.65 667 625.3C673.67 624.95 674.5 624.3 680 623.6C685.5 622.9 693.33 621.98 700 621.1C706.67 620.22 712.95 619.25 720 618.3C727.05 617.35 733.93 616.35 742.3 615.4C750.67 614.45 762.53 613.38 770.2 612.6C777.87 611.82 782.03 611.43 788.3 610.7C794.57 609.97 801.42 609.13 807.8 608.2C814.18 607.27 822 606 826.6 605.1C831.2 604.2 830.6 604.05 835.4 602.8C840.2 601.55 847.55 599.42 855.4 597.6C863.25 595.78 874.77 593.27 882.5 591.9C890.23 590.53 894.15 590.43 901.8 589.4C909.45 588.37 918.7 587.25 928.4 585.7C938.1 584.15 952.12 581.45 960 580.1C967.88 578.75 965.47 579.05 975.7 577.6C985.93 576.15 1005.93 573.68 1021.4 571.4C1036.87 569.12 1057.83 565.62 1068.5 563.9C1079.17 562.18 1077.57 562.62 1085.4 561.1C1093.23 559.58 1106.1 556.75 1115.5 554.8C1124.9 552.85 1134.17 550.92 1141.8 549.4C1149.43 547.88 1151.6 547.33 1161.3 545.7C1171 544.07 1192.13 540.83 1200 539.6C1207.87 538.37 1203.48 539.03 1208.5 538.3C1213.52 537.57 1222.32 536.25 1230.1 535.2C1237.88 534.15 1246.83 533.3 1255.2 532C1263.57 530.7 1272.57 529.07 1280.3 527.4C1288.03 525.73 1294.08 523.95 1301.6 522C1309.12 520.05 1317.62 517.73 1325.4 515.7C1333.18 513.67 1339.53 511.82 1348.3 509.8C1357.07 507.78 1370.22 505.48 1378 503.6C1385.78 501.72 1389.13 500.13 1395 498.5C1400.87 496.87 1405.7 495.55 1413.2 493.8C1420.7 492.05 1427.53 490.95 1440 488C1452.47 485.05 1472.17 480.05 1488 476.1C1503.83 472.15 1524.72 467.17 1535 464.3C1545.28 461.43 1541.87 462.03 1549.7 458.9C1557.53 455.77 1572.85 449.43 1582 445.5C1591.15 441.57 1596.93 438.75 1604.6 435.3C1612.27 431.85 1616.27 429.88 1628 424.8C1639.73 419.72 1659.37 411.48 1675 404.8C1690.63 398.12 1714 388.05 1721.8 384.7" stroke="#f41a1a" stroke-width="1" fill="none"/><path d="M5.5 179.6H1871" stroke="#f0a0a0" stroke-width="1"/></g><path d="M5.5 86.5H1871" stroke="#8a8a8a" stroke-width="1" fill="none"/><path d="M1871 86V915" stroke="#8a8a8a" stroke-width="1.6" fill="none"/><path d="M5 914.5H1872" stroke="#5a5a5a" stroke-width="1.4" fill="none"/><path d="M1871 914H1875M1871 868.06H1875M1871 822.12H1875M1871 776.18H1875M1871 730.24H1875M1871 684.3H1875M1871 638.36H1875M1871 592.42H1875M1871 546.48H1875M1871 500.54H1875M1871 454.6H1875M1871 408.66H1875M1871 362.72H1875M1871 316.78H1875M1871 270.84H1875M1871 224.9H1875M1871 178.96H1875M1871 133.02H1875M1871 87.08H1875" stroke="#444" stroke-width="1.2" fill="none"/><defs><clipPath id="lc"><rect x="1872" y="86.3" width="42" height="850"/></clipPath></defs><g clip-path="url(#lc)" class="yl"><text x="1878.5" y="914.1" textLength="22.6" lengthAdjust="spacingAndGlyphs">198.79</text><text x="1878.5" y="868.16" textLength="22.6" lengthAdjust="spacingAndGlyphs">199.37</text><text x="1878.5" y="822.22" textLength="22.6" lengthAdjust="spacingAndGlyphs">199.95</text><text x="1878.5" y="776.28" textLength="22.6" lengthAdjust="spacingAndGlyphs">200.53</text><text x="1878.5" y="730.34" textLength="22.6" lengthAdjust="spacingAndGlyphs">201.11</text><text x="1878.5" y="684.4" textLength="22.6" lengthAdjust="spacingAndGlyphs">201.69</text><text x="1878.5" y="638.46" textLength="22.6" lengthAdjust="spacingAndGlyphs">202.27</text><text x="1878.5" y="592.52" textLength="22.6" lengthAdjust="spacingAndGlyphs">202.85</text><text x="1878.5" y="546.58" textLength="22.6" lengthAdjust="spacingAndGlyphs">203.43</text><text x="1878.5" y="500.64" textLength="22.6" lengthAdjust="spacingAndGlyphs">204.01</text><text x="1878.5" y="454.7" textLength="22.6" lengthAdjust="spacingAndGlyphs">204.59</text><text x="1878.5" y="408.76" textLength="22.6" lengthAdjust="spacingAndGlyphs">205.17</text><text x="1878.5" y="362.82" textLength="22.6" lengthAdjust="spacingAndGlyphs">205.75</text><text x="1878.5" y="316.88" textLength="22.6" lengthAdjust="spacingAndGlyphs">206.33</text><text x="1878.5" y="270.94" textLength="22.6" lengthAdjust="spacingAndGlyphs">206.91</text><text x="1878.5" y="225" textLength="22.6" lengthAdjust="spacingAndGlyphs">207.49</text><text x="1878.5" y="133.12" textLength="22.6" lengthAdjust="spacingAndGlyphs">208.65</text><text x="1878.5" y="87.18" textLength="22.6" lengthAdjust="spacingAndGlyphs">209.23</text></g><rect x="1874.8" y="170.2" width="39.2" height="14.7" fill="#d4503e"/><text x="1880.8" y="180.2" class="pl" textLength="22.7" lengthAdjust="spacingAndGlyphs">208.06</text><path d="M89 914V921.8M182.29 914V921.8M275.59 914V921.8M368.88 914V921.8M462.18 914V921.8M555.47 914V921.8M648.76 914V921.8M742.06 914V921.8M835.35 914V921.8M928.65 914V921.8M1021.94 914V921.8M1115.23 914V921.8M1208.53 914V921.8M1301.82 914V921.8M1395.12 914V921.8M1488.41 914V921.8M1581.7 914V921.8M1675 914V921.8M1768.29 914V921.8M1861.59 914V921.8" stroke="#555" stroke-width="1.6" fill="none"/><g class="xl"><text x="89" y="929.9" textLength="48.6" lengthAdjust="spacingAndGlyphs">2025/11/03 13</text><text x="182.29" y="929.9" textLength="48.6" lengthAdjust="spacingAndGlyphs">2025/11/05 05</text><text x="275.59" y="929.9" textLength="48.6" lengthAdjust="spacingAndGlyphs">2025/11/06 21</text><text x="368.88" y="929.9" textLength="48.6" lengthAdjust="spacingAndGlyphs">2025/11/10 09</text><text x="462.18" y="929.9" textLength="48.6" lengthAdjust="spacingAndGlyphs">2025/11/12 01</text><text x="555.47" y="929.9" textLength="48.6" lengthAdjust="spacingAndGlyphs">2025/11/13 17</text><text x="648.76" y="929.9" textLength="48.6" lengthAdjust="spacingAndGlyphs">2025/11/17 05</text><text x="742.06" y="929.9" textLength="48.6" lengthAdjust="spacingAndGlyphs">2025/11/18 21</text><text x="835.35" y="929.9" textLength="48.6" lengthAdjust="spacingAndGlyphs">2025/11/20 13</text><text x="928.65" y="929.9" textLength="48.6" lengthAdjust="spacingAndGlyphs">2025/11/22 05</text><text x="1021.94" y="929.9" textLength="48.6" lengthAdjust="spacingAndGlyphs">2025/11/25 17</text><text x="1115.23" y="929.9" textLength="48.6" lengthAdjust="spacingAndGlyphs">2025/11/27 09</text><text x="1208.53" y="929.9" textLength="48.6" lengthAdjust="spacingAndGlyphs">2025/11/29 01</text><text x="1301.82" y="929.9" textLength="48.6" lengthAdjust="spacingAndGlyphs">2025/12/02 13</text><text x="1395.12" y="929.9" textLength="48.6" lengthAdjust="spacingAndGlyphs">2025/12/04 05</text><text x="1488.41" y="929.9" textLength="48.6" lengthAdjust="spacingAndGlyphs">2025/12/05 21</text><text x="1581.7" y="929.9" textLength="48.6" lengthAdjust="spacingAndGlyphs">2025/12/09 09</text><text x="1675" y="929.9" textLength="48.6" lengthAdjust="spacingAndGlyphs">2025/12/11 01</text><text x="1768.29" y="929.9" textLength="48.6" lengthAdjust="spacingAndGlyphs">2025/12/12 17</text><text x="1861.59" y="929.9" textLength="48.6" lengthAdjust="spacingAndGlyphs">2025/12/14 09</text></g><rect x="5.5" y="87" width="106.5" height="14.6" fill="#bdbdbd" fill-opacity="0.55"/><text x="10.7" y="97" class="sma" textLength="90.6" lengthAdjust="spacingAndGlyphs">SMA(SMA1:150, SMA2:450)</text></svg><div class="title">チャート</div><div class="rline"></div><div class="sel" style="left:15px;width:62px"><span class="t">GBPJPY</span><svg class="ar" viewBox="0 0 9.5 6.5"><path d="M0.9 0.9L4.75 4.9L8.6 0.9" stroke="#222" stroke-width="2.1" fill="none"/></svg></div><div class="lbl" style="left:79.5px">Bid<span style="margin:0 2.4px 0 1.4px">/</span>Ask</div><div class="sel" style="left:120px;width:37px"><span class="t">Ask</span><svg class="ar" viewBox="0 0 9.5 6.5"><path d="M0.9 0.9L4.75 4.9L8.6 0.9" stroke="#222" stroke-width="2.1" fill="none"/></svg></div><div class="sel" style="left:163px;width:78.7px"><span class="t"><span style="font-size:9.9px">ローソク足</span></span><svg class="ar" viewBox="0 0 9.5 6.5"><path d="M0.9 0.9L4.75 4.9L8.6 0.9" stroke="#222" stroke-width="2.1" fill="none"/></svg></div><div class="sel" style="left:248px;width:65px"><span class="t"><span style="font-size:10.3px">4時間足</span></span><svg class="ar" viewBox="0 0 9.5 6.5"><path d="M0.9 0.9L4.75 4.9L8.6 0.9" stroke="#222" stroke-width="2.1" fill="none"/></svg></div><div class="btn" style="left:324.4px;width:87.2px"><span style="position:absolute;left:14.6px;top:0">新規注文</span><svg width="14" height="14" viewBox="0 0 14 14" style="position:absolute;left:59px;top:6.8px"><path d="M0.7 3.7V11.75H10.3" stroke="#333" stroke-width="1.1" fill="none"/><rect x="2.6" y="1.5" width="8.6" height="7.5" fill="#fff" stroke="#333" stroke-width="1.3"/><rect x="1.9" y="0.8" width="10" height="1.8" fill="#333"/></svg></div><div class="btn" style="left:415px;width:83.3px">描画ツール</div><div class="btn" style="left:502px;width:84.5px">レート通知</div><div class="btn" style="left:590px;width:94.7px">チャート設定</div><div class="sv" style="left:1740px;width:44px">保存1</div><div class="sv on" style="left:1784px;width:43px">保存2</div><div class="sv" style="left:1827px;width:44px">保存3</div></body></html>
